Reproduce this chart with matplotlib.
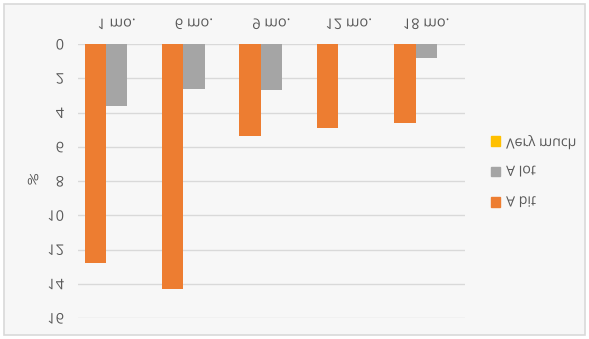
import matplotlib
matplotlib.use("Agg")
import matplotlib.pyplot as plt
import matplotlib.patheffects as pe
from matplotlib.transforms import Affine2D
from matplotlib.patches import Patch, Rectangle
import numpy as np

periods = ["1 mo.", "6 mo.", "9 mo.", "12 mo.", "18 mo."]
a_bit = [12.8, 14.3, 5.4, 4.9, 4.6]
a_lot = [3.6, 2.6, 2.7, 0.0, 0.8]
very_much = [0.0, 0.0, 0.0, 0.0, 0.0]
series_names = ["A bit", "A lot", "Very much"]
colors = ["#ED7D31", "#A5A5A5", "#FFC000"]
yticks = [0, 2, 4, 6, 8, 10, 12, 14, 16]
text_col = "#595959"


class FlipV(pe.AbstractPathEffect):
    """mirror each glyph run top-to-bottom, like the source picture"""

    def draw_path(self, renderer, gc, tpath, affine, rgbFace=None):
        ext = tpath.get_extents()
        flip = Affine2D().scale(1, -1).translate(0, ext.y0 + ext.y1)
        renderer.draw_path(gc, tpath, flip + affine, rgbFace)


plt.rcParams['font.family'] = ['Open Sans', 'DejaVu Sans']

fig = plt.figure(figsize=(5.89, 3.39), dpi=100, facecolor="white")
fig.patches.append(Rectangle((0.006, 0.012), 0.988, 0.976, transform=fig.transFigure,
                             facecolor="#f7f7f7", edgecolor="#d9d9d9", lw=1.2, zorder=-5))
ax = fig.add_axes([0.1324, 0.0619, 0.6571, 0.8083])
ax.set_facecolor("none")

x = np.arange(len(periods))
w = 0.277
for i, (vals, name) in enumerate(zip([a_bit, a_lot, very_much], series_names)):
    ax.bar(x + (i - 1) * w, vals, width=w, color=colors[i], label=name, zorder=3)

ax.set_xlim(-0.5, len(periods) - 0.5)
ax.set_ylim(16, 0)
ax.set_yticks(yticks, [str(v) for v in yticks])
ax.set_xticks(x, periods)
ax.xaxis.tick_top()
ax.tick_params(axis="both", length=0, labelsize=10.5, labelcolor=text_col)
ax.tick_params(axis="x", pad=8)
ax.tick_params(axis="y", pad=10)
ax.grid(axis="y", color="#d9d9d9", lw=1, zorder=0)
for s in ax.spines.values():
    s.set_visible(False)

ax.set_ylabel("%", rotation=0, fontsize=10.5, color=text_col, va="center", ha="center")
ax.yaxis.set_label_coords(-0.116, 0.5)

handles = [Patch(color=colors[i]) for i in (2, 1, 0)]
labels = [series_names[i] for i in (2, 1, 0)]
leg = fig.legend(handles, labels, loc="center left", bbox_to_anchor=(0.834, 0.49),
                 frameon=False, fontsize=10.2, handlelength=0.65, handleheight=0.65,
                 handletextpad=0.4, labelspacing=1.1, borderpad=0, borderaxespad=0)

flip = [FlipV()]
for t in ax.get_xticklabels() + ax.get_yticklabels() + leg.get_texts():
    t.set_color(text_col)
    t.set_path_effects(flip)
ax.yaxis.label.set_path_effects(flip)

fig.savefig("out.png", dpi=100, facecolor=fig.get_facecolor())
